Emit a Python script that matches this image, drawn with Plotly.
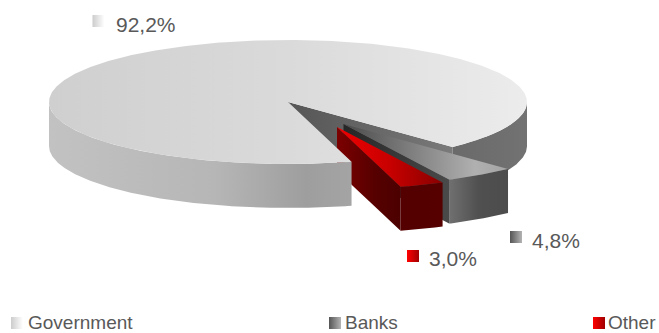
import math
import plotly.graph_objects as go

# Portfolio split by holder
names = ["Government", "Banks", "Other"]
shares = [92.2, 4.8, 3.0]

# Pie projection in page pixels
CX, CY, RX, RY = 288, 102, 239, 62
DEPTH = 44
BANKS_START = 46.5
OFFSETS = {"Government": (0, 0), "Banks": (55.5, 22), "Other": (49, 25)}

TEXT = "#595959"


def spans():
    out = {}
    start = BANKS_START
    for name in ["Banks", "Other", "Government"]:
        sweep = shares[names.index(name)] / sum(shares) * 360
        out[name] = (start, start + sweep)
        start += sweep
    return out


def point(name, deg, drop=0):
    ox, oy = OFFSETS[name]
    a = math.radians(deg)
    return CX + ox + RX * math.cos(a), CY + oy + RY * math.sin(a) + drop


def apex(name, drop=0):
    ox, oy = OFFSETS[name]
    return CX + ox, CY + oy + drop


def arc(name, a0, a1, drop=0):
    n = max(2, int(abs(a1 - a0) * 2))
    return [point(name, a0 + (a1 - a0) * i / n, drop) for i in range(n + 1)]


def grad(stops):
    return dict(
        type="horizontal",
        colorscale=[[p, c] for p, c in stops],
    )


def poly(pts, stops):
    xs = [p[0] for p in pts] + [pts[0][0]]
    ys = [p[1] for p in pts] + [pts[0][1]]
    return go.Scatter(
        x=xs, y=ys, mode="lines", line=dict(width=0), fill="toself",
        fillgradient=grad(stops), hoverinfo="skip", showlegend=False,
    )


def top(name, stops):
    a0, a1 = S[name]
    return poly([apex(name)] + arc(name, a0, a1), stops)


def outer_wall(name, a0, a1, stops):
    return poly(arc(name, a0, a1) + arc(name, a1, a0, DEPTH), stops)


def cut_face(name, deg, stops):
    return poly([apex(name), point(name, deg), point(name, deg, DEPTH), apex(name, DEPTH)], stops)


S = spans()
g0, g1 = S["Government"]
b0, b1 = S["Banks"]
o0, o1 = S["Other"]

fig = go.Figure()

# Back pieces of the large slice
fig.add_trace(cut_face("Government", g1, [(0, "#565656"), (0.5, "#666666"), (1, "#7a7a7a")]))
fig.add_trace(outer_wall("Government", 360, g1, [(0, "#6a6a6a"), (1, "#727272")]))

# Banks wedge
fig.add_trace(cut_face("Banks", b1, [(0, "#262626"), (1, "#4a4a4a")]))
fig.add_trace(outer_wall("Banks", b0, b1, [(0, "#707070"), (0.5, "#505050"), (1, "#4c4c4c")]))
fig.add_trace(top("Banks", [(0, "#4a4a4a"), (0.5, "#8a8a8a"), (0.8, "#b0b0b0"), (1, "#a4a4a4")]))

# Other wedge
fig.add_trace(cut_face("Other", o1, [(0, "#7c0000"), (0.6, "#560000"), (1, "#4c0000")]))
fig.add_trace(outer_wall("Other", o0, o1, [(0, "#540000"), (1, "#560000")]))
fig.add_trace(top("Other", [(0, "#f00000"), (0.5, "#c80000"), (1, "#880000")]))

# Front wall and lid of the large slice sit over the wedges
fig.add_trace(outer_wall("Government", g0, 180, [(0, "#c2c2c2"), (0.55, "#b6b6b6"), (0.85, "#9e9e9e"), (1, "#a4a4a4")]))
fig.add_trace(top("Government", [(0, "#cfcfcf"), (0.5, "#dadada"), (1, "#ececec")]))


def pct(v):
    return f"{v:.1f}".replace(".", ",") + "%"


# Swatch colours and where each value and legend entry sits
swatch = {
    "Government": ("#cccccc", "#ffffff"),
    "Banks": ("#555555", "#b4b4b4"),
    "Other": ("#ff0000", "#a00000"),
}
value_pos = {"Government": (98.5, 21, 114, 24), "Banks": (516, 237, 530, 240), "Other": (413, 256, 427, 258)}
legend_pos = {"Government": (17, 323, 26), "Banks": (335, 323, 343), "Other": (599, 323, 606)}


def square(x, y, name):
    c0, c1 = swatch[name]
    return go.Scatter(
        x=[x], y=[y], mode="markers", hoverinfo="skip", showlegend=False,
        marker=dict(symbol="square", size=12, color=c0, line=dict(width=0),
                    gradient=dict(type="horizontal", color=c1)),
    )


annotations = []
for name, v in zip(names, shares):
    sx, sy, tx, ty = value_pos[name]
    fig.add_trace(square(sx, sy, name))
    annotations.append(dict(x=tx, y=ty, text=pct(v), xanchor="left", yanchor="middle",
                            showarrow=False, xref="x", yref="y",
                            font=dict(family="Liberation Sans", size=21, color=TEXT)))
    lx, ly, ltx = legend_pos[name]
    fig.add_trace(square(lx, ly, name))
    annotations.append(dict(x=ltx, y=ly - 0.5, text=name, xanchor="left", yanchor="middle",
                            showarrow=False, xref="x", yref="y",
                            font=dict(family="Liberation Sans", size=19, color=TEXT)))

fig.update_layout(
    width=659, height=333, margin=dict(l=0, r=0, t=0, b=0),
    paper_bgcolor="white", plot_bgcolor="white", showlegend=False,
    xaxis=dict(range=[0, 659], visible=False, fixedrange=True),
    yaxis=dict(range=[333, 0], visible=False, fixedrange=True),
    annotations=annotations,
)

fig.write_html("out.html", config=dict(displayModeBar=False))
